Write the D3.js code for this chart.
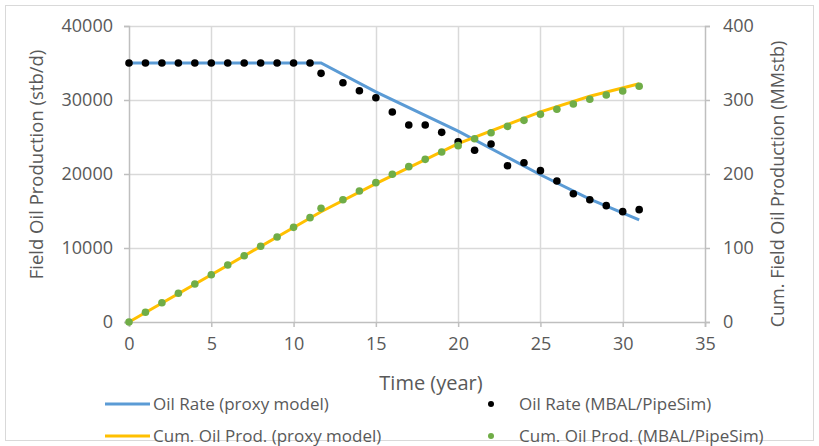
<!DOCTYPE html>
<html lang="en">
<head>
  <meta charset="UTF-8" />
  <title>Field Oil Production</title>
  <style>
    body {
      margin: 0;
      background: #fff;
    }
    svg text {
      font-family: "Open Sans", sans-serif;
      fill: #595959;
    }
  </style>
</head>
<body>
  <div id="chart"></div>

  <script src="https://d3js.org/d3.v7.min.js"></script>
  <script>
    // proxy model (line) - time in years
    const proxyTime = [0, 11.67, 15, 20, 25, 28, 31];
    const proxyRate = [35000, 35000, 31100, 25800, 19900, 16600, 13800];
    const proxyCum = [0, 149, 187, 241, 284, 305, 322];

    // MBAL/PipeSim (points)
    const mbalTime = [0, 1, 2, 3, 4, 5, 6, 7, 8, 9, 10, 11, 11.67, 13, 14, 15, 16, 17, 18, 19, 20,
                      21, 22, 23, 24, 25, 26, 27, 28, 29, 30, 31];
    const mbalRate = [35000, 35000, 35000, 35000, 35000, 35000, 35000, 35000, 35000, 35000, 35000, 35000,
                      33600, 32340, 31260, 30310, 28380, 26620, 26620, 25630, 24360,
                      23200, 24050, 21120, 21530, 20450, 19050, 17340, 16530, 15720, 14910, 15180];
    const mbalCum = [0, 13.1, 26.1, 38.8, 51.4, 63.9, 77, 89.6, 102.3, 114.9, 127.9, 141, 153.6,
                     165.3, 177, 188.3, 199.6, 209.9, 219.8, 229.7, 238.3,
                     247.7, 255.8, 264.4, 272.5, 280.7, 287.4, 294.6, 301, 306.8, 312.2, 318.5];

    const xTicks = [0, 5, 10, 15, 20, 25, 30, 35];
    const yTicks = [0, 10000, 20000, 30000, 40000];
    const y2Ticks = [0, 100, 200, 300, 400];

    const W = 819, H = 446;
    const margin = {top: 26, right: 114, bottom: 124, left: 129};
    const width = W - margin.left - margin.right,
          height = H - margin.top - margin.bottom;

    const svg = d3.select("#chart")
      .append("svg")
        .attr("width", W)
        .attr("height", H);

    // outer chart border
    svg.append("rect")
      .attr("x", 5.5).attr("y", 5.5)
      .attr("width", W - 11).attr("height", H - 11)
      .attr("fill", "#fff")
      .attr("stroke", "#d9d9d9");

    const g = svg.append("g")
      .attr("transform", `translate(${margin.left},${margin.top})`);

    const x = d3.scaleLinear().domain([0, 35]).range([0, width]);
    const y = d3.scaleLinear().domain([0, 40000]).range([height, 0]);
    const y2 = d3.scaleLinear().domain([0, 400]).range([height, 0]);

    // gridlines
    g.append("g")
      .selectAll("line.h")
      .data(yTicks.slice(1))
      .enter().append("line")
        .attr("x1", 0).attr("x2", width)
        .attr("y1", d => Math.round(y(d)) + 0.5)
        .attr("y2", d => Math.round(y(d)) + 0.5)
        .attr("stroke", "#d9d9d9").attr("stroke-width", 1.5);

    g.append("g")
      .selectAll("line.v")
      .data(xTicks.slice(1, -1))
      .enter().append("line")
        .attr("x1", d => Math.round(x(d)) + 0.5)
        .attr("x2", d => Math.round(x(d)) + 0.5)
        .attr("y1", 0).attr("y2", height)
        .attr("stroke", "#d9d9d9").attr("stroke-width", 1.5);

    // axes
    const styleAxis = sel => {
      sel.select(".domain").attr("stroke", "#bfbfbf").attr("stroke-width", 1.5);
      sel.selectAll(".tick line").attr("stroke", "#bfbfbf").attr("stroke-width", 1.5);
      sel.selectAll(".tick text")
        .style("font-family", "'Open Sans', sans-serif")
        .style("font-size", "18px")
        .attr("fill", "#595959");
    };

    g.append("g")
      .attr("transform", `translate(0,${height})`)
      .call(d3.axisBottom(x).tickValues(xTicks).tickSizeOuter(0).tickSize(5).tickPadding(10))
      .call(styleAxis);

    g.append("g")
      .call(d3.axisLeft(y).tickValues(yTicks).tickFormat(d3.format("d")).tickSizeOuter(0).tickSize(5).tickPadding(11))
      .call(styleAxis);

    g.append("g")
      .attr("transform", `translate(${width},0)`)
      .call(d3.axisRight(y2).tickValues(y2Ticks).tickSizeOuter(0).tickSize(5).tickPadding(13))
      .call(styleAxis);

    // lines
    const rateLine = d3.line()
      .x((d, i) => x(proxyTime[i]))
      .y(d => y(d));
    const cumLine = d3.line()
      .x((d, i) => x(proxyTime[i]))
      .y(d => y2(d));

    g.append("path")
      .datum(proxyRate)
      .attr("d", rateLine)
      .attr("fill", "none")
      .attr("stroke", "#5b9bd5")
      .attr("stroke-width", 3);

    g.append("path")
      .datum(proxyCum)
      .attr("d", cumLine)
      .attr("fill", "none")
      .attr("stroke", "#ffc000")
      .attr("stroke-width", 3);

    // points
    g.append("g")
      .selectAll("circle")
      .data(mbalRate)
      .enter().append("circle")
        .attr("cx", (d, i) => x(mbalTime[i]))
        .attr("cy", d => y(d))
        .attr("r", 3.8)
        .attr("fill", "#000");

    g.append("g")
      .selectAll("circle")
      .data(mbalCum)
      .enter().append("circle")
        .attr("cx", (d, i) => x(mbalTime[i]))
        .attr("cy", d => y2(d))
        .attr("r", 3.8)
        .attr("fill", "#70ad47");

    // axis titles
    svg.append("text")
      .attr("x", 431)
      .attr("y", 390)
      .attr("text-anchor", "middle")
      .style("font-size", "20px")
      .text("Time (year)");

    svg.append("text")
      .attr("transform", `translate(43,164.5) rotate(-90)`)
      .attr("text-anchor", "middle")
      .style("font-size", "18.5px")
      .text("Field Oil Production (stb/d)");

    svg.append("text")
      .attr("transform", `translate(784,184) rotate(-90)`)
      .attr("text-anchor", "middle")
      .style("font-size", "18px")
      .text("Cum. Field Oil Production (MMstb)");

    // legend
    const legend = [
      {label: "Oil Rate (proxy model)", type: "line", color: "#5b9bd5", lx: 105, ly: 404},
      {label: "Cum. Oil Prod. (proxy model)", type: "line", color: "#ffc000", lx: 105, ly: 436},
      {label: "Oil Rate (MBAL/PipeSim)", type: "dot", color: "#000", lx: 491, ly: 404},
      {label: "Cum. Oil Prod. (MBAL/PipeSim)", type: "dot", color: "#70ad47", lx: 491, ly: 436}
    ];

    const lg = svg.append("g")
      .selectAll("g")
      .data(legend)
      .enter().append("g")
        .attr("transform", d => `translate(${d.lx},${d.ly})`);

    lg.filter(d => d.type === "line").append("line")
      .attr("x1", 0).attr("x2", 45)
      .attr("stroke", d => d.color)
      .attr("stroke-width", 3);

    lg.filter(d => d.type === "dot").append("circle")
      .attr("r", 3)
      .attr("fill", d => d.color);

    lg.append("text")
      .attr("x", d => d.type === "line" ? 48 : 28)
      .attr("dy", "0.35em")
      .style("font-size", "17px")
      .text(d => d.label);
  </script>
</body>
</html>
